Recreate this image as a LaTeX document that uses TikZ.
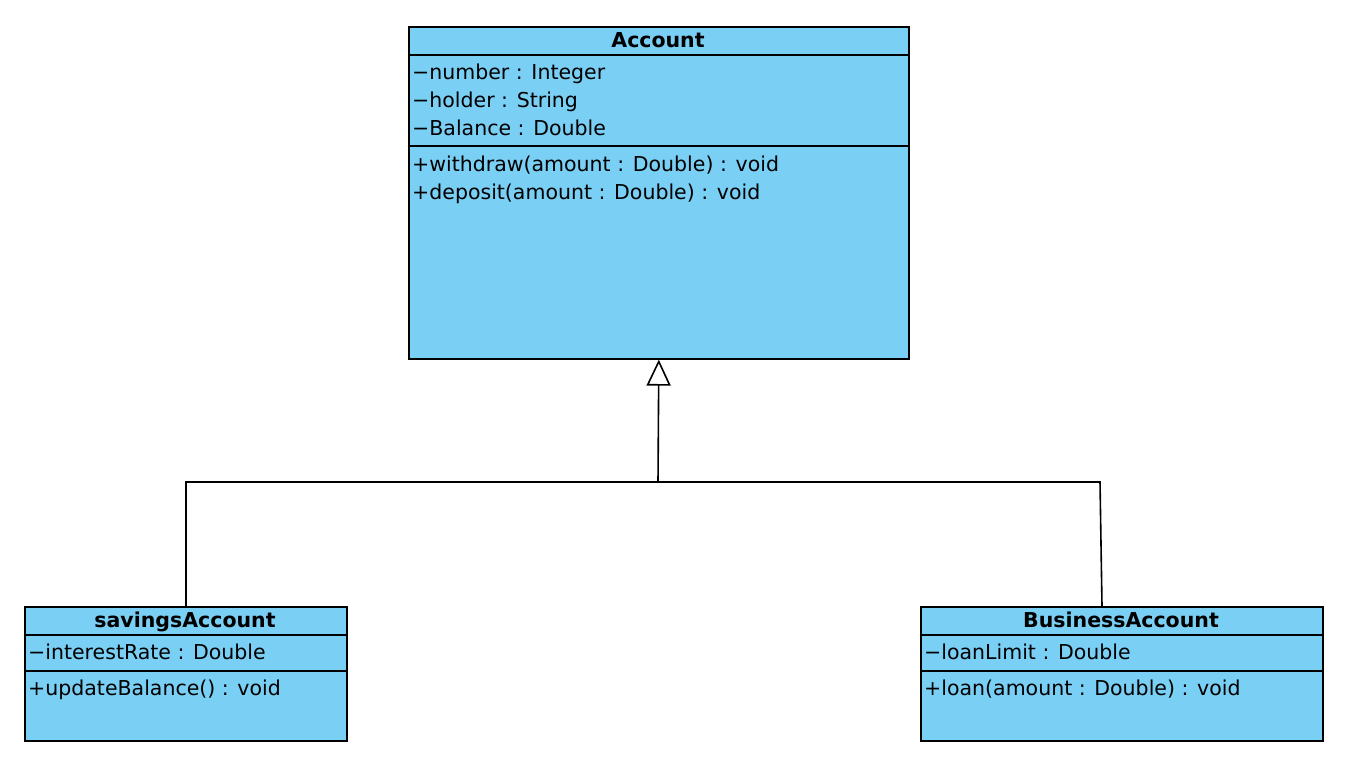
\documentclass[tikz,border=0pt]{standalone}
\usepackage{fontspec}
\setmainfont{DejaVu Sans}
\usetikzlibrary{arrows.meta}
\definecolor{classfill}{RGB}{122,207,244}
\begin{document}
\begin{tikzpicture}[x=1pt,y=-1pt,
  classbox/.style={draw=black,fill=classfill,line width=1.6pt,rectangle,inner sep=0pt,anchor=north west},
  sepline/.style={line width=1.6pt},
  title/.style={font=\fontsize{20.5}{24}\selectfont\bfseries,anchor=center,inner sep=0pt,text height=0.72em,text depth=0.2em},
  member/.style={font=\fontsize{20.5}{24}\selectfont,anchor=west,inner sep=0pt,text height=0.72em,text depth=0.2em},
  conn/.style={line width=1.6pt},
  inherit/.style={conn,-{Triangle[open,width=24pt,length=26pt,fill=white,line width=1.6pt]}}
]
\useasboundingbox (0,0) rectangle (1364,766);
% Account
\node[classbox,minimum width=500pt,minimum height=332pt] (acc) at (408,26) {};
\draw[sepline] (408,55) -- (908,55);
\draw[sepline] (408,146) -- (908,146);
\node[title] (acct) at (658,45) {Account};
\node[member] (a1) at (412,77) {−number : Integer};
\node[member] (a2) at (412,105) {−holder : String};
\node[member] (a3) at (412,133) {−Balance : Double};
\node[member] (a4) at (412,169) {+withdraw(amount : Double) : void};
\node[member] (a5) at (412,197) {+deposit(amount : Double) : void};
% savingsAccount
\node[classbox,minimum width=322pt,minimum height=134pt] (sav) at (24,606) {};
\draw[sepline] (24,635) -- (346,635);
\draw[sepline] (24,671) -- (346,671);
\node[title] (savt) at (185,625) {savingsAccount};
\node[member] (s1) at (28,657) {−interestRate : Double};
\node[member] (s2) at (28,693) {+updateBalance() : void};
% BusinessAccount
\node[classbox,minimum width=402pt,minimum height=134pt] (bus) at (920,606) {};
\draw[sepline] (920,635) -- (1322,635);
\draw[sepline] (920,671) -- (1322,671);
\node[title] (bust) at (1121,625) {BusinessAccount};
\node[member] (b1) at (924,657) {−loanLimit : Double};
\node[member] (b2) at (924,693) {+loan(amount : Double) : void};
% connectors
\coordinate (jn) at (658,482);
\coordinate (jl) at (186,482);
\coordinate (jr) at (1100,482);
\coordinate (sl) at (186,606);
\coordinate (br) at (1102,606);
\draw[conn] (sl) -- (jl) -- (jn);
\draw[conn] (br) -- (jr) -- (jn);
\draw[inherit] (jn) -- (acc.south);
\end{tikzpicture}
\end{document}
